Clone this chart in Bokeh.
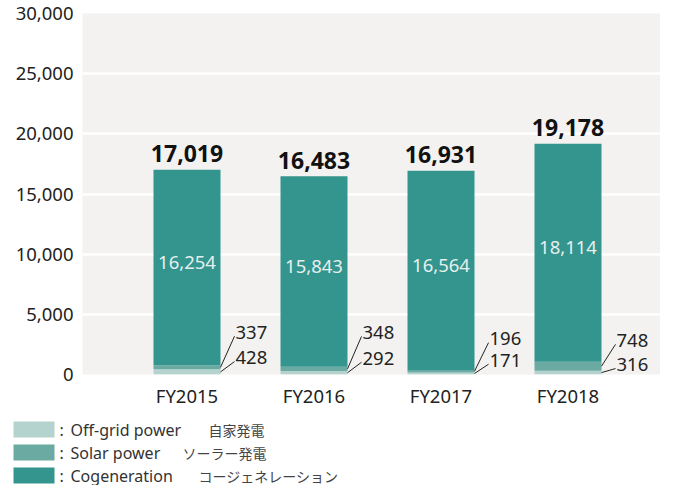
from bokeh.plotting import figure
from bokeh.models import Range1d, FixedTicker, NumeralTickFormatter
from bokeh.layouts import column
from bokeh.embed import file_html
from bokeh.resources import INLINE
from bokeh.core.properties import value

# ---------------- data ----------------
years = ["FY2015", "FY2016", "FY2017", "FY2018"]
offgrid = [428, 292, 171, 316]
solar = [337, 348, 196, 748]
cogen = [16254, 15843, 16564, 18114]
y_ticks = [0, 5000, 10000, 15000, 20000, 25000, 30000]

series_en = ["Off-grid power", "Solar power", "Cogeneration"]
series_ja = ["自家発電", "ソーラー発電", "コージェネレーション"]
colors = ["#b5d3ce", "#6aaaa2", "#33958e"]

# ---------------- layout constants ----------------
FONT = "Noto Sans"
JFONT = "Noto Sans CJK JP"
W = 660
TOP_B = 13
FRAME_H = 363
BOT_B = 34
LEFT_B = 82
YMAX = 30000
PX = FRAME_H / YMAX          # pixels per data unit (y)
XPX = 127.0                  # pixels per category step (x)
FIRST_C = 186.5              # pixel centre of first bar
BAR_W = 67 / XPX
X_LEFT = (LEFT_B - FIRST_C) / XPX
X_RIGHT = (W - FIRST_C) / XPX

# callout text centres / leader ends, pixels above the zero line
solar_lab_px = [42.5, 42.3, 36, 34.3]
off_lab_px = [17, 16.3, 14.3, 10]
LEAD_DROP = 4

xs = list(range(len(years)))
b1 = list(offgrid)
b2 = [o + s for o, s in zip(offgrid, solar)]
tot = [o + s + c for o, s, c in zip(offgrid, solar, cogen)]

p = figure(width=W, height=TOP_B + FRAME_H + BOT_B, output_backend="svg",
           toolbar_location=None, x_range=Range1d(X_LEFT, X_RIGHT),
           y_range=Range1d(0, YMAX),
           min_border_left=LEFT_B, min_border_right=0,
           min_border_top=TOP_B, min_border_bottom=BOT_B)
p.frame_align = False
p.background_fill_color = "#f3f2f0"
p.border_fill_color = "white"
p.outline_line_color = None
p.xgrid.visible = False
p.ygrid.grid_line_color = "white"
p.ygrid.grid_line_width = 2.5
p.ygrid.ticker = FixedTicker(ticks=y_ticks)

p.yaxis.ticker = FixedTicker(ticks=y_ticks)
p.yaxis.formatter = NumeralTickFormatter(format="0,0")
p.xaxis.ticker = FixedTicker(ticks=xs)
p.xaxis.major_label_overrides = {i: y for i, y in zip(xs, years)}
for ax in (p.xaxis, p.yaxis):
    ax.axis_line_color = None
    ax.major_tick_line_color = None
    ax.minor_tick_line_color = None
    ax.major_tick_out = 0
    ax.major_tick_in = 0
    ax.major_label_text_font = FONT
    ax.major_label_text_font_size = "18.5px"
    ax.major_label_text_color = "#222222"
p.yaxis.major_label_standoff = 9
p.xaxis.major_label_standoff = 8

# stacked bars
p.vbar(x=xs, width=BAR_W, bottom=[0] * 4, top=b1, fill_color=colors[0], line_color=None)
p.vbar(x=xs, width=BAR_W, bottom=b1, top=b2, fill_color=colors[1], line_color=None)
p.vbar(x=xs, width=BAR_W, bottom=b2, top=tot, fill_color=colors[2], line_color=None)

# totals
p.text(x=xs, y=[t + 16 / PX for t in tot], text=[f"{t:,}" for t in tot],
       text_font=value(FONT), text_font_size="23px", text_font_style="bold",
       text_color="#111111", text_align="center", text_baseline="alphabetic")

# cogeneration inside labels
p.text(x=xs, y=[b + c / 2 + 5 / PX for b, c in zip(b2, cogen)],
       text=[f"{c:,}" for c in cogen],
       text_font=value(FONT), text_font_size="18.5px",
       text_color="#e6efed", text_align="center", text_baseline="alphabetic")

# callouts for small values
right = [x + BAR_W / 2 for x in xs]
p.text(x=[r + 15 / XPX for r in right], y=[v / PX for v in solar_lab_px],
       text=[f"{s:,}" for s in solar], text_font=value(FONT), text_font_size="18.5px",
       text_color="#222222", text_align="left", text_baseline="alphabetic")
p.text(x=[r + 15 / XPX for r in right], y=[v / PX for v in off_lab_px],
       text=[f"{o:,}" for o in offgrid], text_font=value(FONT), text_font_size="18.5px",
       text_color="#222222", text_align="left", text_baseline="alphabetic")
p.segment(x0=right, y0=[o + s / 2 for o, s in zip(offgrid, solar)],
          x1=[r + 14 / XPX for r in right], y1=[(v - LEAD_DROP) / PX for v in solar_lab_px],
          line_color="#222222", line_width=1)
p.segment(x0=right, y0=[o / 2 for o in offgrid],
          x1=[r + 14 / XPX for r in right], y1=[(v - LEAD_DROP) / PX for v in off_lab_px],
          line_color="#222222", line_width=1)

# ---------------- legend figure ----------------
LH = 75
lg = figure(width=W, height=LH, output_backend="svg", toolbar_location=None,
            x_range=Range1d(0, W), y_range=Range1d(LH, 0),
            x_axis_location=None, y_axis_location=None,
            min_border=0, min_border_left=0, min_border_right=0,
            min_border_top=0, min_border_bottom=0)
lg.frame_align = False
lg.outline_line_color = None
lg.grid.visible = False
lg.background_fill_color = "white"
lg.border_fill_color = "white"
rows = [19, 42, 65]
ja_x = [208, 182, 198]
lg.rect(x=[33.5] * 3, y=rows, width=41, height=16, fill_color=colors, line_color=None)
lg.text(x=[59] * 3, y=rows, text=[":"] * 3, text_font=value(FONT), text_font_size="16px",
        text_color="#333333", text_baseline="middle")
lg.text(x=[70] * 3, y=rows, text=series_en, text_font=value(FONT), text_font_size="16px",
        text_color="#333333", text_baseline="middle")
lg.text(x=ja_x, y=rows, text=series_ja, text_font=value(JFONT), text_font_size="14px",
        text_color="#444444", text_baseline="middle")

layout = column(p, lg, spacing=0)
open("out.html", "w").write(file_html(layout, INLINE))
